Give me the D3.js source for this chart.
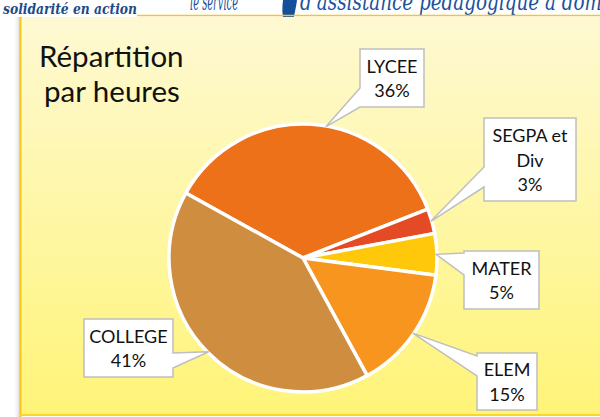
<!DOCTYPE html>
<html>
<head>
<meta charset="utf-8">
<script src="https://cdn.jsdelivr.net/npm/d3@7"></script>
<style>
  body { margin: 0; background: #fff; }
  text { font-family: Lato, "Open Sans", sans-serif; }
</style>
</head>
<body>
<div id="chart"></div>
<script>
// data
var categories = ["LYCEE", "SEGPA et Div", "MATER", "ELEM", "COLLEGE"];
var values = [36, 3, 5, 15, 41];
var labelWrap = [["LYCEE"], ["SEGPA et", "Div"], ["MATER"], ["ELEM"], ["COLLEGE"]];
var colors = ["#EC7118", "#E44B25", "#FFC80B", "#F7951F", "#CE8D3F"];
var titleLines = ["Répartition", "par heures"];

// callout boxes: x, y, w, h, side of the pointer, pointer base (y1, y2), tip shift (deg)
var boxes = [
    {x: 360, y: 49,  w: 64, h: 58, side: "left",  b1: 88,  b2: 107, shift: 6},
    {x: 484, y: 118, w: 92, h: 83, side: "left",  b1: 167, b2: 187, shift: 0},
    {x: 464, y: 251, w: 75, h: 58, side: "left",  b1: 253, b2: 275, shift: 0},
    {x: 477, y: 353, w: 60, h: 57, side: "left",  b1: 356, b2: 376, shift: 0},
    {x: 84,  y: 319, w: 89, h: 58, side: "right", b1: 353, b2: 368, shift: 0}
];

var width = 600, height = 417;
var cx = 303, cy = 258, radius = 134;

var svg = d3.select("#chart").append("svg")
    .attr("width", width)
    .attr("height", height);

var defs = svg.append("defs");
var grad = defs.append("linearGradient")
    .attr("id", "panelGrad")
    .attr("x1", 0).attr("y1", 0).attr("x2", 0).attr("y2", 1);
grad.append("stop").attr("offset", "0%").attr("stop-color", "#FEF9D3");
grad.append("stop").attr("offset", "100%").attr("stop-color", "#FFF478");

var shadow = defs.append("linearGradient")
    .attr("id", "shadowGrad")
    .attr("x1", 0).attr("y1", 0).attr("x2", 1).attr("y2", 0);
shadow.append("stop").attr("offset", "0%").attr("stop-color", "#fff").attr("stop-opacity", 0);
shadow.append("stop").attr("offset", "100%").attr("stop-color", "#ccc").attr("stop-opacity", 0.8);

// header (cut at the top edge, as in the original slide)
var header = svg.append("g");
header.append("text")
    .attr("x", 3).attr("y", 14)
    .attr("textLength", 134).attr("lengthAdjust", "spacingAndGlyphs")
    .style("font-family", "'DejaVu Serif', serif")
    .style("font-style", "italic").style("font-weight", "bold")
    .style("font-size", "14px")
    .attr("fill", "#1F4A86")
    .text("solidarité en action");
header.append("text")
    .attr("x", 190).attr("y", 10)
    .attr("textLength", 48).attr("lengthAdjust", "spacingAndGlyphs")
    .style("font-family", "'DejaVu Serif', serif")
    .style("font-style", "italic")
    .style("font-size", "24px")
    .attr("fill", "#1B519E")
    .text("le service");
header.append("text")
    .attr("x", 300).attr("y", 10)
    .attr("textLength", 302).attr("lengthAdjust", "spacingAndGlyphs")
    .style("font-family", "'DejaVu Serif', serif")
    .style("font-style", "italic")
    .style("font-size", "24px")
    .attr("fill", "#1B519E")
    .text("d'assistance pédagogique à dom");
header.append("path")
    .attr("d", "M283,0 L297,0 C296,8 294,16 293,21 C292,24 285,24 284,21 C282,15 282,8 283,0 Z")
    .attr("fill", "#14509A");

// gold line on the top
svg.append("line")
    .attr("x1", 137).attr("x2", width)
    .attr("y1", 15.5).attr("y2", 15.5)
    .attr("stroke", "#F6C61A").attr("stroke-width", 1.5);

// panel
svg.append("rect")
    .attr("x", 13).attr("y", 17).attr("width", 7).attr("height", height - 17)
    .attr("fill", "url(#shadowGrad)");
svg.append("rect")
    .attr("x", 20).attr("y", 17)
    .attr("width", width - 20).attr("height", 397)
    .attr("fill", "url(#panelGrad)");
svg.append("line")
    .attr("x1", 20.5).attr("x2", 20.5).attr("y1", 17).attr("y2", height)
    .attr("stroke", "#F6C61A").attr("stroke-width", 2);
svg.append("line")
    .attr("x1", 20).attr("x2", width).attr("y1", 415).attr("y2", 415)
    .attr("stroke", "#F9D82A").attr("stroke-width", 2);

// title
svg.append("text")
    .attr("x", 40).attr("y", 67)
    .style("font-size", "29.5px")
    .attr("fill", "#111")
    .selectAll("tspan")
    .data(titleLines)
    .enter()
    .append("tspan")
    .attr("x", function(d, i){ return i == 0 ? 39 : 44; })
    .attr("dy", function(d, i){ return i == 0 ? 0 : 35; })
    .text(function(d){ return d; });

// pie
var start = -61 * Math.PI / 180;
var pie = d3.pie().sort(null).startAngle(start).endAngle(start + 2 * Math.PI);
var arcs = pie(values);
var arc = d3.arc().innerRadius(0).outerRadius(radius);

var g = svg.append("g").attr("transform", "translate(" + cx + "," + cy + ")");
g.selectAll("path")
    .data(arcs)
    .enter()
    .append("path")
    .attr("d", arc)
    .attr("fill", function(d, i){ return colors[i]; })
    .attr("stroke", "#fff")
    .attr("stroke-width", 3.5)
    .attr("stroke-linejoin", "round");

// callouts
var calls = svg.append("g");
arcs.forEach(function(d, i){
    var b = boxes[i];
    var a = (d.startAngle + d.endAngle) / 2 + b.shift * Math.PI / 180;
    var tx = cx + (radius - 1) * Math.sin(a);
    var ty = cy - (radius - 1) * Math.cos(a);
    var p;
    if (b.side == "left") {
        p = "M" + b.x + "," + b.y + "L" + (b.x + b.w) + "," + b.y +
            "L" + (b.x + b.w) + "," + (b.y + b.h) + "L" + b.x + "," + (b.y + b.h) +
            "L" + b.x + "," + b.b2 + "L" + tx + "," + ty + "L" + b.x + "," + b.b1 + "Z";
    } else {
        p = "M" + b.x + "," + b.y + "L" + (b.x + b.w) + "," + b.y +
            "L" + (b.x + b.w) + "," + b.b1 + "L" + tx + "," + ty +
            "L" + (b.x + b.w) + "," + b.b2 + "L" + (b.x + b.w) + "," + (b.y + b.h) +
            "L" + b.x + "," + (b.y + b.h) + "Z";
    }
    calls.append("path")
        .attr("d", p)
        .attr("fill", "#fff")
        .attr("stroke", "#BFBFBF")
        .attr("stroke-width", 1.5);

    var lines = labelWrap[i].concat([values[i] + "%"]);
    var mid = b.y + b.h / 2;
    calls.append("text")
        .attr("text-anchor", "middle")
        .style("font-size", "18px")
        .attr("fill", "#111")
        .selectAll("tspan")
        .data(lines)
        .enter()
        .append("tspan")
        .attr("x", b.x + b.w / 2)
        .attr("y", function(t, j){ return mid + (j - (lines.length - 1) / 2) * 24.5 + 7; })
        .text(function(t){ return t; });
});
</script>
</body>
</html>
